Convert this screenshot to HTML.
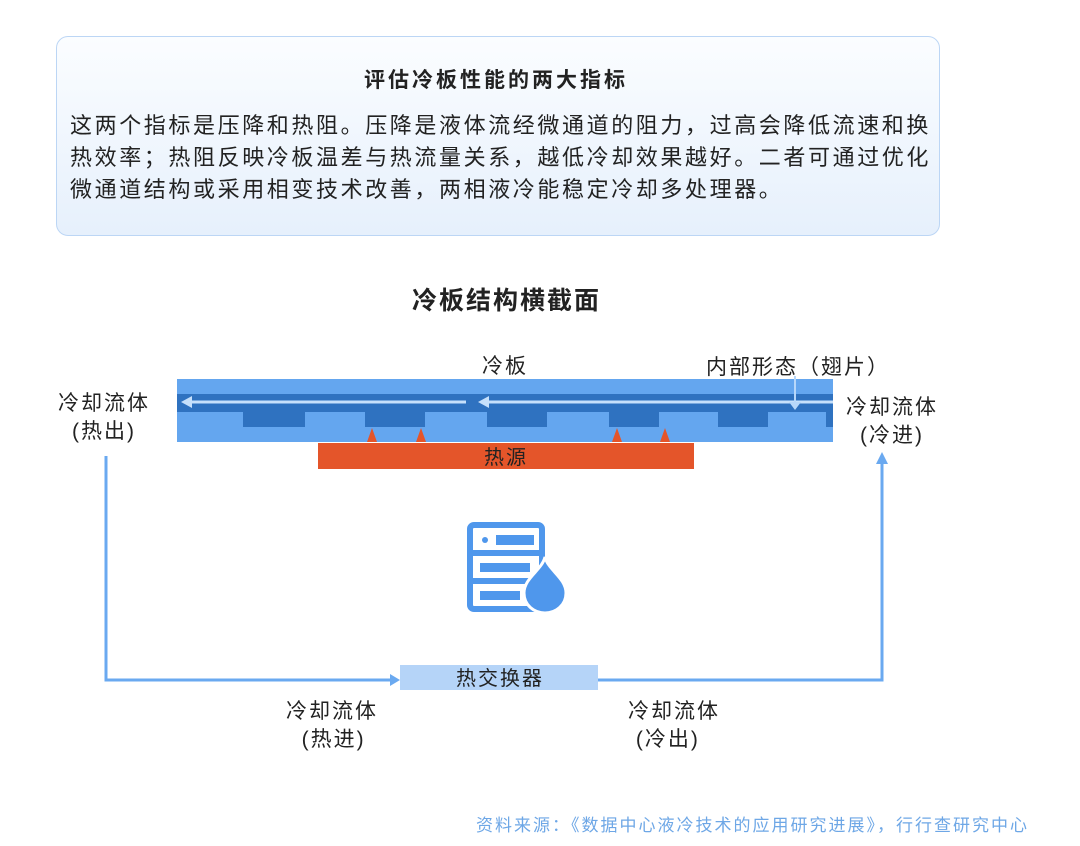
<!DOCTYPE html>
<html><head><meta charset="utf-8"><style>
body{margin:0;width:1080px;height:846px;background:#fff;position:relative;overflow:hidden;font-family:"Liberation Sans","Noto Sans CJK SC",sans-serif;color:#222}
.box{position:absolute;left:56px;top:36px;width:882px;height:198px;border:1.5px solid #bcd6f5;border-radius:12px;background:linear-gradient(#fbfdff,#e6f0fc)}
.t{position:absolute;white-space:nowrap}
</style></head><body>
<div class="box"></div>
<div class="t" style="left:364px;top:64px;font-size:21px;font-weight:bold;letter-spacing:3px">评估冷板性能的两大指标</div>
<div class="t" style="left:70px;top:110px;font-size:22px;line-height:32px;letter-spacing:2.6px">这两个指标是压降和热阻。压降是液体流经微通道的阻力，过高会降低流速和换<br>热效率；热阻反映冷板温差与热流量关系，越低冷却效果越好。二者可通过优化<br>微通道结构或采用相变技术改善，两相液冷能稳定冷却多处理器。</div>
<div class="t" style="left:412px;top:281px;font-size:25px;font-weight:bold;letter-spacing:2px">冷板结构横截面</div>
<div class="t" style="left:482px;top:350px;font-size:21px;letter-spacing:2px">冷板</div>
<div class="t" style="left:706px;top:351px;font-size:21px;letter-spacing:2px">内部形态（翅片）</div>
<div class="t" style="left:58px;top:390px;font-size:21px;line-height:28px;text-align:center;letter-spacing:2px">冷却流体<br>(热出)</div>
<div class="t" style="left:846px;top:394px;font-size:21px;line-height:28px;text-align:center;letter-spacing:2px">冷却流体<br>(冷进)</div>
<div class="t" style="left:286px;top:698px;font-size:21px;line-height:28px;letter-spacing:2px">冷却流体<br>&nbsp;&nbsp;(热进)</div>
<div class="t" style="left:628px;top:698px;font-size:21px;line-height:28px;letter-spacing:2px">冷却流体<br>&nbsp;(冷出)</div>
<svg width="1080" height="846" style="position:absolute;left:0;top:0">
<rect x="177" y="379" width="656" height="63" fill="#64a6ef"/>
<rect x="177" y="394" width="656" height="18" fill="#2f72c0"/>
<g fill="#2f72c0">
<rect x="243" y="411" width="62" height="16"/><rect x="365" y="411" width="60" height="16"/>
<rect x="487" y="411" width="60" height="16"/><rect x="609" y="411" width="50" height="16"/>
<rect x="718" y="411" width="50" height="16"/><rect x="826" y="411" width="7" height="16"/>
</g>
<g stroke="#c6e0fb" stroke-width="3" fill="#c6e0fb">
<line x1="188" y1="402" x2="466" y2="402"/><polygon points="181,402 192,396 192,408" stroke="none"/>
<line x1="486" y1="402" x2="833" y2="402"/><polygon points="478,402 489,396 489,408" stroke="none"/>
</g>
<line x1="795" y1="376" x2="795" y2="402" stroke="#b7d7fa" stroke-width="2"/>
<polygon points="789,402 801,402 795,410" fill="#b7d7fa"/>
<g fill="#e4552a">
<polygon points="372,428 367,442 377,442"/><polygon points="421,428 416,442 426,442"/>
<polygon points="617,428 612,442 622,442"/><polygon points="665,428 660,442 670,442"/>
</g>
<rect x="318" y="443" width="376" height="26" fill="#e4552a"/>
<text x="506" y="464" font-size="20" text-anchor="middle" fill="#222" font-family="Liberation Sans,Noto Sans CJK SC,sans-serif" letter-spacing="2">热源</text>
<g fill="none" stroke="#6aa9f0" stroke-width="3">
<polyline points="106,456 106,680 392,680"/>
<polyline points="598,680 882,680 882,462"/>
</g>
<polygon points="400,680 390,674 390,686" fill="#6aa9f0"/>
<polygon points="882,452 876,464 888,464" fill="#6aa9f0"/>
<rect x="400" y="665" width="198" height="25" fill="#b5d4f8"/>
<text x="500" y="685" font-size="20" text-anchor="middle" fill="#222" font-family="Liberation Sans,Noto Sans CJK SC,sans-serif" letter-spacing="2">热交换器</text>
<g fill="none" stroke="#4f97ec" stroke-width="6">
<rect x="470" y="525" width="72" height="84" rx="4"/>
<line x1="470" y1="553" x2="542" y2="553"/><line x1="470" y1="581" x2="542" y2="581"/>
</g>
<g fill="#4f97ec">
<rect x="496" y="535" width="38" height="10"/><circle cx="485" cy="540" r="3"/>
<rect x="480" y="563" width="50" height="9"/><rect x="480" y="591" width="40" height="9"/>
<path d="M545,557 C548,570 566,578 566,593 C566,605 556,613 545,613 C534,613 524,605 524,593 C524,578 542,570 545,557Z" stroke="#fff" stroke-width="3"/>
</g>
</svg>
<div class="t" style="left:476px;top:811px;font-size:17px;color:#6ea7e6;letter-spacing:2px">资料来源：《数据中心液冷技术的应用研究进展》，行行查研究中心</div>
</body></html>
